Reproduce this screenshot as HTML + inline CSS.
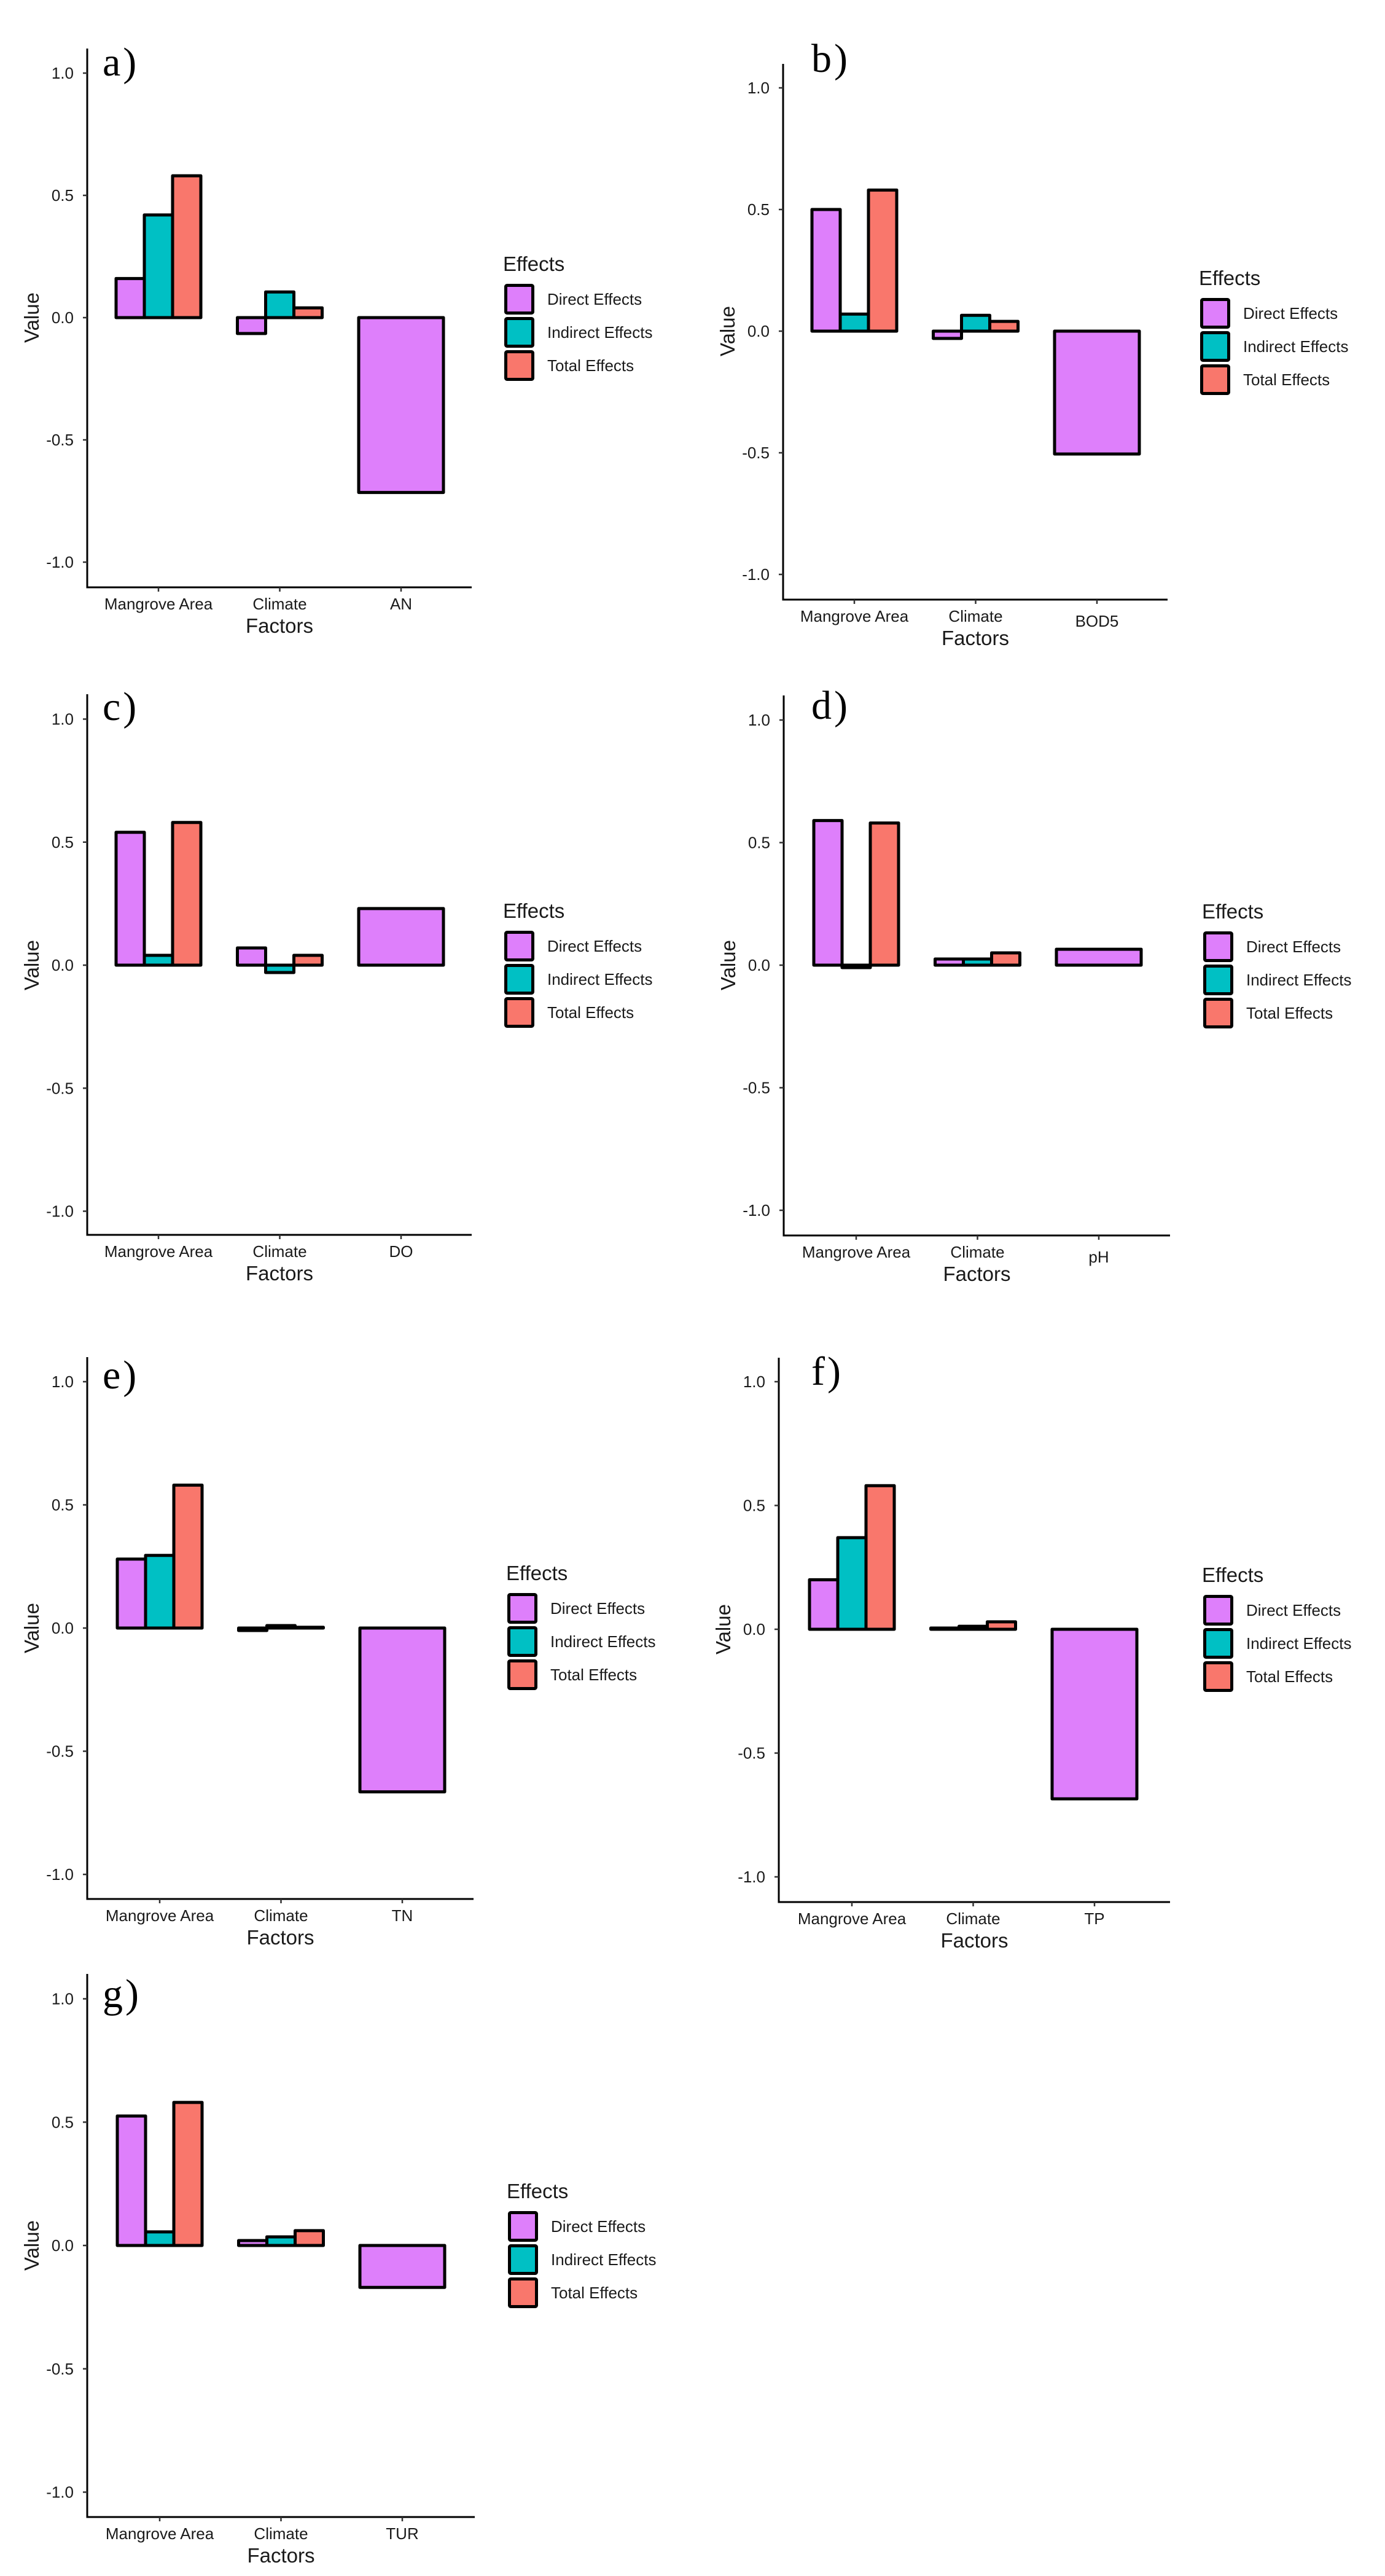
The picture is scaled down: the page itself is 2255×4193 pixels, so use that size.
<!DOCTYPE html>
<html><head><meta charset="utf-8"><title>Effects panels</title>
<style>
html,body{margin:0;padding:0;background:#fff;}
svg{display:block;}
text{font-family:"Liberation Sans",Arial,sans-serif;fill:#1a1a1a;}
.plab{font-family:"Liberation Serif",serif;fill:#000;}
</style></head>
<body>
<svg id="fig" width="2255" height="4193" viewBox="0 0 2255 4193" xmlns="http://www.w3.org/2000/svg"></svg>
<script>
// ---- data ----
const panelLetters = ["a)","b)","c)","d)","e)","f)","g)"];
const responseNames = ["AN","BOD5","DO","pH","TN","TP","TUR"];
const factorNames = ["Mangrove Area","Climate"];
const directMangrove   = [0.16, 0.50, 0.54, 0.59, 0.28, 0.20, 0.525];
const indirectMangrove = [0.42, 0.07, 0.04, -0.01, 0.295, 0.37, 0.055];
const totalMangrove    = [0.58, 0.58, 0.58, 0.58, 0.58, 0.58, 0.58];
const directClimate    = [-0.065, -0.03, 0.07, 0.025, -0.01, 0.005, 0.02];
const indirectClimate  = [0.105, 0.065, -0.03, 0.025, 0.01, 0.012, 0.035];
const totalClimate     = [0.04, 0.04, 0.04, 0.05, 0.003, 0.03, 0.06];
const directResponse   = [-0.715, -0.505, 0.23, 0.065, -0.665, -0.685, -0.17];
const yTicks = [1.0, 0.5, 0.0, -0.5, -1.0];
const yTickLabels = ["1.0","0.5","0.0","-0.5","-1.0"];
const seriesNames = ["Direct Effects","Indirect  Effects","Total Effects"];
const seriesColors = ["#DE7FFB","#00C0C4","#F9776C"];

// ---- layout (pixels) ----
const layout = [
 {ax:142, top:79,   y1:119,   y0:517,  xa:956,  right:768,  c0:258,  legX:821,  legY:429,  lx:167,  ly:123},
 {ax:1275,top:104,  y1:143,   y0:539,  xa:976,  right:1901, c0:1391, legX:1954, legY:452,  lx:1321, ly:117},
 {ax:142, top:1130, y1:1170.5,y0:1571, xa:2010, right:768,  c0:258,  legX:821,  legY:1482, lx:167,  ly:1172},
 {ax:1276,top:1132, y1:1172,  y0:1571, xa:2011, right:1905, c0:1394, legX:1959, legY:1483, lx:1321, ly:1170},
 {ax:142, top:2209, y1:2249,  y0:2650, xa:3091, right:771,  c0:260,  legX:826,  legY:2560, lx:167,  ly:2260},
 {ax:1268,top:2210, y1:2249,  y0:2652, xa:3096, right:1905, c0:1387, legX:1959, legY:2563, lx:1321, ly:2254},
 {ax:142, top:3213, y1:3253.5,y0:3655, xa:4097, right:773,  c0:260,  legX:827,  legY:3566, lx:167,  ly:3267}
];
const catStep = 197.5, groupW = 138;

const NS = "http://www.w3.org/2000/svg";
const svg = document.getElementById("fig");
function mk(tag, attrs, parent){
  const e = document.createElementNS(NS, tag);
  for (const k in attrs) e.setAttribute(k, attrs[k]);
  (parent||svg).appendChild(e);
  return e;
}

for (let p = 0; p < 7; p++) {
  const L = layout[p];
  const g = mk("g", {});
  
  
  const yS = v => L.y0 - v * (L.y0 - L.y1);
  const xC = i => L.c0 + i * catStep;

  const vals = [
    [directMangrove[p], indirectMangrove[p], totalMangrove[p]],
    [directClimate[p], indirectClimate[p], totalClimate[p]]
  ];
  const bw = groupW / 3;
  for (let c = 0; c < 2; c++) {
    for (let s = 0; s < 3; s++) {
      const v = vals[c][s];
      const x = xC(c) - groupW / 2 + s * bw;
      const ya = yS(Math.max(v, 0)), yb = yS(Math.min(v, 0));
      const r = mk("rect", {x:x, y:ya, width:bw, height:Math.max(yb - ya, 0.5),
        fill:seriesColors[s], stroke:"#000", "stroke-width":5, "stroke-linejoin":"round"}, g);
      
      
    }
  }
  {
    const v = directResponse[p];
    const ya = yS(Math.max(v, 0)), yb = yS(Math.min(v, 0));
    const r = mk("rect", {x:xC(2) - groupW/2, y:ya, width:groupW, height:Math.max(yb - ya, 0.5),
      fill:seriesColors[0], stroke:"#000", "stroke-width":5, "stroke-linejoin":"round"}, g);
    
    
  }

  const ya = mk("line", {x1:L.ax, y1:L.top, x2:L.ax, y2:L.xa + 1.5, stroke:"#000", "stroke-width":3}, g);
  
  
  const xa = mk("line", {x1:L.ax - 1.5, y1:L.xa, x2:L.right, y2:L.xa, stroke:"#000", "stroke-width":3}, g);
  
  

  for (let t = 0; t < yTicks.length; t++) {
    const y = yS(yTicks[t]);
    mk("line", {x1:L.ax - 7, y1:y, x2:L.ax, y2:y, stroke:"#333", "stroke-width":2.5}, g);
    const tl = mk("text", {x:L.ax - 22, y:y + 9, "text-anchor":"end", "font-size":26, fill:"#333"}, g);
    tl.textContent = yTickLabels[t];
    
    
  }
  const catLabels = [factorNames[0], factorNames[1], responseNames[p]];
  for (let c = 0; c < 3; c++) {
    const x = xC(c);
    mk("line", {x1:x, y1:L.xa, x2:x, y2:L.xa + 7, stroke:"#333", "stroke-width":2.5}, g);
    const dy = (c === 2 && (p === 1 || p === 3)) ? 8 : 0;
    const tl = mk("text", {x:x, y:L.xa + 36 + dy, "text-anchor":"middle", "font-size":26, fill:"#333"}, g);
    tl.textContent = catLabels[c];
    
    
  }
  const xt = mk("text", {x:(L.ax + L.right) / 2, y:L.xa + 74, "text-anchor":"middle", "font-size":33, fill:"#000"}, g);
  xt.textContent = "Factors";
  
  
  const vx = L.ax - 90, vy = L.y0;
  const yt = mk("text", {x:vx, y:vy, "text-anchor":"middle", "font-size":33, fill:"#000",
    transform:"rotate(-90 " + vx + " " + vy + ")", dy:11}, g);
  yt.textContent = "Value";
  
  

  const pl = mk("text", {x:L.lx, y:L.ly, "font-size":66, "class":"plab", "letter-spacing":4}, g);
  pl.textContent = panelLetters[p];
  
  

  const lg = mk("g", {}, g);
  
  
  const lt = mk("text", {x:L.legX - 2, y:L.legY + 12, "font-size":33, fill:"#000"}, lg);
  lt.textContent = "Effects";
  
  
  for (let s = 0; s < 3; s++) {
    const ky = L.legY + 33 + s * 54;
    const k = mk("rect", {x:L.legX + 2.5, y:ky + 2.5, width:44, height:45, fill:seriesColors[s], stroke:"#000", "stroke-width":5, rx:2}, lg);
    
    
    const t = mk("text", {x:L.legX + 70, y:ky + 34, "font-size":26, fill:"#000"}, lg);
    t.textContent = seriesNames[s];
    
    
  }
}
</script>
</body></html>
